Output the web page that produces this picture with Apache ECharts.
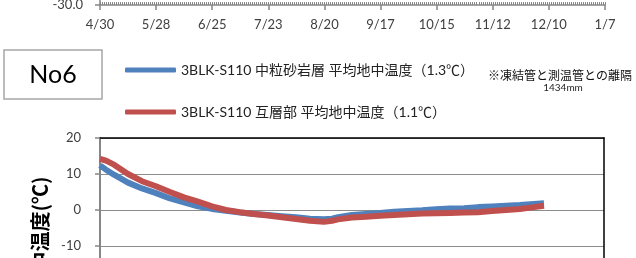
<!DOCTYPE html>
<html>
<head>
<meta charset="utf-8">
<script src="https://cdn.jsdelivr.net/npm/echarts@6/dist/echarts.min.js"></script>
<style>
  html, body { margin: 0; padding: 0; background: #fff; }
  #chart { width: 636px; height: 258px; }
</style>
</head>
<body>
<div id="chart"></div>
<script>
// x axis labels, one every 28 days from 4/30
let dateLabels = ['4/30', '5/28', '6/25', '7/23', '8/20', '9/17', '10/15', '11/12', '12/10', '1/7'];

let days = [0, 3, 7, 14, 21, 28, 35, 42, 49, 56, 63, 70, 77, 84, 91, 98, 105, 112, 116, 119,
  126, 133, 140, 147, 154, 161, 168, 175, 182, 189, 196, 203, 210, 217, 222];
let blueTemps = [12.4, 11.2, 9.8, 7.6, 6.0, 4.7, 3.2, 2.1, 1.0, 0.3, -0.2, -0.7, -1.1, -1.4, -1.7, -2.0, -2.4, -2.6, -2.4, -2.0,
  -1.4, -1.1, -0.8, -0.5, -0.3, -0.1, 0.2, 0.4, 0.5, 0.8, 1.0, 1.2, 1.4, 1.7, 1.9];
let redTemps = [14.2, 13.7, 12.6, 10.0, 8.0, 6.6, 5.0, 3.5, 2.3, 1.0, 0.0, -0.6, -1.1, -1.5, -2.0, -2.5, -3.0, -3.3, -3.0, -2.6,
  -2.1, -1.9, -1.6, -1.4, -1.2, -1.0, -0.9, -0.8, -0.7, -0.6, -0.3, 0.0, 0.3, 0.8, 1.2];

let seriesNames = ['3BLK-S110 中粒砂岩層 平均地中温度（1.3℃）', '3BLK-S110 互層部 平均地中温度（1.1℃）'];
let seriesColors = ['#4F81BD', '#C0504D'];

let axisGrey = '#868686';
let labelColor = '#404040';

function pairs(ys) {
  return days.map(function (d, i) { return [d, ys[i]]; });
}

let chart = echarts.init(document.getElementById('chart'));
chart.setOption({
  animation: false,
  textStyle: { fontFamily: "Lato, 'Noto Sans CJK JP', sans-serif" },
  grid: [
    // upper chart, only its x axis is in view
    { left: 100, right: 31, top: -95, bottom: 253, containLabel: false, outerBoundsMode: 'none' },
    // No6 chart
    { left: 100, right: 32, top: 138, bottom: -60, containLabel: false, outerBoundsMode: 'none' }
  ],
  xAxis: [
    {
      gridIndex: 0, type: 'value', min: 0, max: 252, interval: 28, position: 'bottom',
      axisLine: { onZero: false, lineStyle: { color: axisGrey, width: 1.5 } },
      axisTick: { show: true, length: 5, lineStyle: { color: axisGrey, width: 1.5 } },
      axisLabel: { margin: 13, color: labelColor, fontSize: 13,
        formatter: function (v) { return dateLabels[Math.round(v / 28)]; } },
      splitLine: { show: false }
    },
    {
      // daily ticks of the upper chart, pointing up
      gridIndex: 0, type: 'value', min: 0, max: 252, interval: 1, position: 'bottom',
      axisLine: { show: false, onZero: false },
      axisTick: { show: true, inside: true, length: 3, lineStyle: { color: axisGrey, width: 1 } },
      axisLabel: { show: false },
      splitLine: { show: false }
    },
    {
      gridIndex: 1, type: 'value', min: 0, max: 252, interval: 28, position: 'bottom',
      axisLine: { onZero: false, lineStyle: { color: axisGrey, width: 1.5 } },
      axisTick: { show: false },
      axisLabel: { show: false },
      splitLine: { show: false }
    },
    {
      // black top border
      gridIndex: 1, type: 'value', min: 0, max: 252, position: 'top',
      axisLine: { show: true, onZero: false, lineStyle: { color: '#000', width: 1.5 } },
      axisTick: { show: false },
      axisLabel: { show: false },
      splitLine: { show: false }
    }
  ],
  yAxis: [
    {
      gridIndex: 0, type: 'value', min: -30, max: 30, interval: 10,
      axisLine: { show: true, onZero: false, lineStyle: { color: axisGrey, width: 1.5 } },
      axisTick: { show: true, length: 5, lineStyle: { color: axisGrey, width: 1.5 } },
      axisLabel: { margin: 17, color: labelColor, fontSize: 13,
        formatter: function (v) { return v.toFixed(1); } },
      splitLine: { show: false }
    },
    {
      gridIndex: 1, type: 'value', min: -30, max: 20, interval: 10,
      axisLine: { show: true, onZero: false, lineStyle: { color: axisGrey, width: 2 } },
      axisTick: { show: true, length: 5, lineStyle: { color: axisGrey, width: 1.5 } },
      axisLabel: { margin: 19, color: labelColor, fontSize: 13 },
      splitLine: { lineStyle: { color: '#8c8c8c', width: 1.2 } },
      name: '地中温度(℃)',
      nameLocation: 'middle',
      nameGap: 50,
      nameMoveOverlap: false,
      nameTextStyle: { fontSize: 20, fontWeight: 'bold', color: '#000', fontFamily: 'Noto Sans CJK JP',
        padding: [0, 12, 0, 0] }
    },
    {
      // black right border
      gridIndex: 1, type: 'value', min: -30, max: 20, position: 'right',
      axisLine: { show: true, onZero: false, lineStyle: { color: '#000', width: 1.5 } },
      axisTick: { show: false },
      axisLabel: { show: false },
      splitLine: { show: false }
    }
  ],
  legend: [
    {
      data: [seriesNames[0]], left: 125, top: 63, padding: 0,
      icon: 'roundRect', itemWidth: 51, itemHeight: 5,
      textStyle: { fontSize: 14, color: '#222' }
    },
    {
      data: [seriesNames[1]], left: 125, top: 105, padding: 0,
      icon: 'roundRect', itemWidth: 51, itemHeight: 5,
      textStyle: { fontSize: 14, color: '#222' }
    }
  ],
  graphic: [
    { type: 'rect', shape: { x: 4, y: 50, width: 98, height: 49 },
      style: { fill: '#fff', stroke: '#a6a6a6', lineWidth: 1.5 } },
    { type: 'text', x: 53, y: 75,
      style: { text: 'No6', fontSize: 25, fontFamily: 'Lato, sans-serif', fill: '#000', align: 'center', verticalAlign: 'middle' } },
    { type: 'text', x: 560, y: 75,
      style: { text: '※凍結管と測温管との離隔', fontSize: 12, fontFamily: 'Noto Sans CJK JP', fill: '#111', align: 'center', verticalAlign: 'middle' } },
    { type: 'text', x: 563, y: 88,
      style: { text: '1434mm', fontSize: 10, fontFamily: 'Lato, sans-serif', fill: '#222', align: 'center', verticalAlign: 'middle' } }
  ],
  series: [
    {
      name: seriesNames[0], type: 'line', xAxisIndex: 2, yAxisIndex: 1,
      data: pairs(blueTemps), showSymbol: false,
      lineStyle: { color: seriesColors[0], width: 6 },
      itemStyle: { color: seriesColors[0] }
    },
    {
      name: seriesNames[1], type: 'line', xAxisIndex: 2, yAxisIndex: 1,
      data: pairs(redTemps), showSymbol: false,
      lineStyle: { color: seriesColors[1], width: 6 },
      itemStyle: { color: seriesColors[1] }
    }
  ]
});
</script>
</body>
</html>
